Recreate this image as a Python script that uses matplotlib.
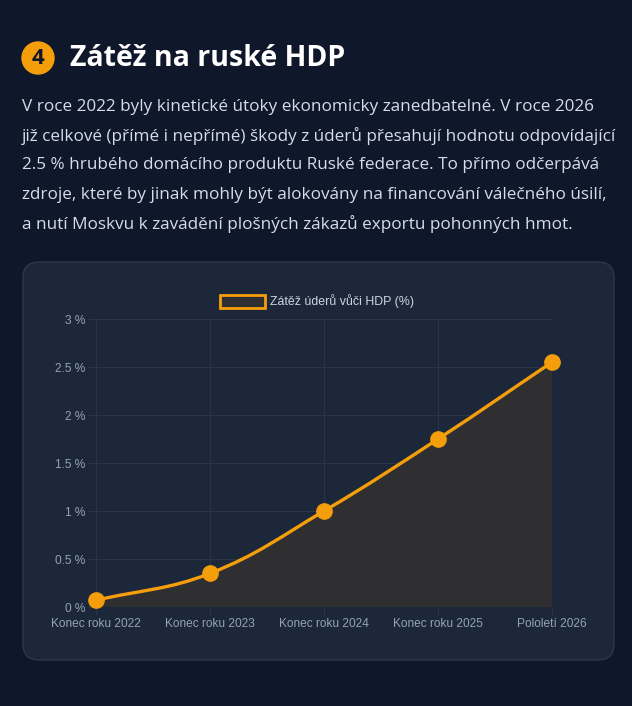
import numpy as np
import matplotlib
matplotlib.use("Agg")
import matplotlib.pyplot as plt
from matplotlib.patches import FancyBboxPatch, Circle, PathPatch, Patch
from matplotlib.path import Path

# data
labels = ["Konec roku 2022", "Konec roku 2023", "Konec roku 2024", "Konec roku 2025", "Pololetí 2026"]
values = [0.07, 0.35, 1.0, 1.75, 2.55]
y_ticks = [0, 0.5, 1, 1.5, 2, 2.5, 3]
series_name = "Zátěž úderů vůči HDP (%)"

title = "Zátěž na ruské HDP"
body_lines = [
    "V roce 2022 byly kinetické útoky ekonomicky zanedbatelné. V roce 2026",
    "již celkové (přímé i nepřímé) škody z úderů přesahují hodnotu odpovídající",
    "2.5 % hrubého domácího produktu Ruské federace. To přímo odčerpává",
    "zdroje, které by jinak mohly být alokovány na financování válečného úsilí,",
    "a nutí Moskvu k zavádění plošných zákazů exportu pohonných hmot.",
]

PAGE = "#0f172a"
CARD = "#1c2739"
BORDER = "#2c384b"
ORANGE = "#f59e0b"
FILL = "#2f2e30"
GRID = "#2a3546"
TICK = "#94a3b8"

W, H = 632, 706
fig = plt.figure(figsize=(W / 100, H / 100), dpi=100, facecolor=PAGE)

# overlay in pixel coords
bg = fig.add_axes([0, 0, 1, 1])
bg.set_xlim(0, W)
bg.set_ylim(H, 0)
bg.axis("off")

card = FancyBboxPatch((23, 262), 591, 398, boxstyle="round,pad=0,rounding_size=16",
                      facecolor=CARD, edgecolor=BORDER, linewidth=1)
bg.add_patch(card)

bg.add_patch(Circle((38, 58), 16, color=ORANGE))
bg.text(38, 59, "4", ha="center", va="center", color=PAGE, fontsize=16,
        fontweight="bold", family="Open Sans")
bg.text(70, 58, title, ha="left", va="center", color="white", fontsize=20.5,
        fontweight="bold", family="Open Sans")

for i, line in enumerate(body_lines):
    bg.text(22, 107 + i * 29.2, line, ha="left", va="center", color="#d5dde8",
            fontsize=12.3, family="Open Sans")

# chart
left, right, top, bottom = 96, 552, 319, 607
ax = fig.add_axes([left / W, (H - bottom) / H, (right - left) / W, (bottom - top) / H])
ax.set_facecolor("none")
ax.set_xlim(0, len(labels) - 1)
ax.set_ylim(0, 3)

x = np.arange(len(values))
pts = ax.transData.transform(np.column_stack([x, values]))

# chart.js style spline, tension 0.4
t = 0.4
n = len(pts)
cp_prev = pts.copy()
cp_next = pts.copy()
for i in range(n):
    prev = pts[max(i - 1, 0)]
    cur = pts[i]
    nxt = pts[min(i + 1, n - 1)]
    d01 = np.hypot(*(cur - prev))
    d12 = np.hypot(*(nxt - cur))
    s = d01 + d12
    s01 = d01 / s if s else 0
    s12 = d12 / s if s else 0
    cp_prev[i] = cur - t * s01 * (nxt - prev)
    cp_next[i] = cur + t * s12 * (nxt - prev)

inv = ax.transData.inverted()
P = inv.transform(pts)
CP = inv.transform(cp_prev)
CN = inv.transform(cp_next)

verts = [P[0]]
codes = [Path.MOVETO]
for i in range(n - 1):
    verts += [CN[i], CP[i + 1], P[i + 1]]
    codes += [Path.CURVE4] * 3

fill_verts = verts + [(P[-1][0], 0), (P[0][0], 0), P[0]]
fill_codes = codes + [Path.LINETO, Path.LINETO, Path.CLOSEPOLY]
ax.add_patch(PathPatch(Path(fill_verts, fill_codes), facecolor=FILL, edgecolor="none", zorder=1))
ax.add_patch(PathPatch(Path(verts, codes), facecolor="none", edgecolor=ORANGE, linewidth=2.4, zorder=3))
ax.plot(x, values, "o", color=ORANGE, markersize=11, zorder=4, clip_on=False)

ax.set_xticks(x)
ax.set_xticklabels(labels)
ax.set_yticks(y_ticks)
ax.set_yticklabels([f"{v:g} %" for v in y_ticks])
ax.grid(True, color=GRID, linewidth=0.8)
ax.set_axisbelow(True)
for s in ax.spines.values():
    s.set_visible(False)
ax.tick_params(axis="both", colors=GRID, length=6, width=0.8, labelcolor=TICK,
               labelsize=8.6, pad=2)
for lab in ax.get_xticklabels() + ax.get_yticklabels():
    lab.set_family("Liberation Sans")

leg = ax.legend(handles=[Patch(facecolor=FILL, edgecolor=ORANGE, linewidth=2, label=series_name)],
                loc="lower center", bbox_to_anchor=(0.485, 0.99), frameon=False,
                handlelength=3.6, handleheight=1.25, handletextpad=0.4, borderpad=0.6,
                prop={"family": "Liberation Sans", "size": 8.9})
for txt in leg.get_texts():
    txt.set_color("#cbd5e1")

fig.savefig("out.png", dpi=100, facecolor=PAGE)
